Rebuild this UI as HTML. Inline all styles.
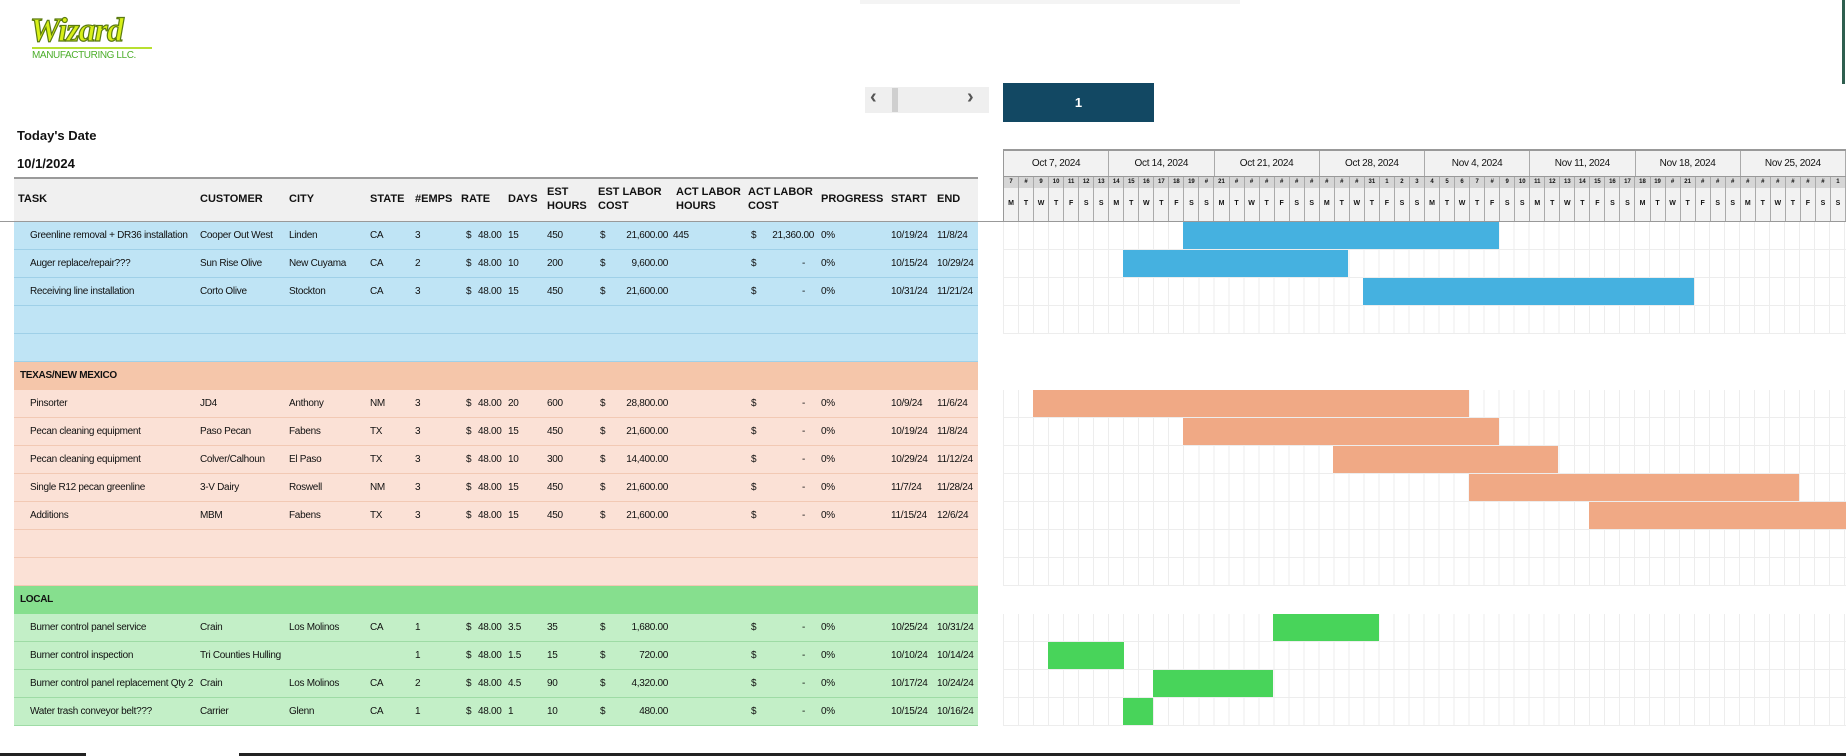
<!DOCTYPE html>
<html><head><meta charset="utf-8"><style>
*{margin:0;padding:0;box-sizing:border-box}
body{width:1846px;height:756px;background:#fff;position:relative;overflow:hidden;font-family:"Liberation Sans Narrow","Liberation Sans",sans-serif;color:#111}
.a{position:absolute}
.row{position:absolute;left:14px;width:964px;height:28px;font-size:10px;letter-spacing:-0.3px}
.row span{position:absolute;top:8px;white-space:nowrap}
.b{background:#bfe4f5;border-bottom:1px solid #9fd0e8}
.p{background:#fbe1d6;border-bottom:1px solid #f2c9b4}
.g{background:#c3efc7;border-bottom:1px solid #9edba5}
.sec{font-weight:bold;font-size:10px}
.hd{position:absolute;font-weight:bold;font-size:11px;line-height:14px;white-space:nowrap}
.grid{position:absolute;left:1003px;width:843px;background-image:repeating-linear-gradient(90deg,#ededed 0 1px,transparent 1px 15.02px),repeating-linear-gradient(180deg,transparent 0 27px,#ededed 27px 28px)}
.bar{position:absolute;height:27px}
.gh{position:absolute;left:1003px;width:843px;display:grid}
.gh div{border-right:1px solid #aaa;text-align:center;overflow:hidden;white-space:nowrap}
</style></head><body>
<!-- logo -->
<div class="a" style="left:30px;top:12px;font:italic bold 34px 'Liberation Serif',serif;color:#d8f018;-webkit-text-stroke:1.2px #5a7a10;letter-spacing:-1px">Wizard</div>
<div class="a" style="left:32px;top:47px;width:120px;height:2px;background:#b8e030"></div>
<div class="a" style="left:32px;top:50px;font-size:10px;color:#4cae2a;letter-spacing:-0.4px">MANUFACTURING LLC.</div>
<div class="a" style="left:860px;top:0;width:380px;height:4px;background:#f4f4f4"></div>
<div class="a" style="left:1842px;top:0;width:3px;height:84px;background:#2f5f4f"></div>
<!-- pager -->
<div class="a" style="left:865px;top:87px;width:124px;height:26px;background:#efefef"></div>
<div class="a" style="left:892px;top:88px;width:6px;height:24px;background:#cfcfcf"></div>
<div class="a" style="left:870px;top:86px;font-size:20px;font-weight:bold;color:#555">&#8249;</div>
<div class="a" style="left:967px;top:86px;font-size:20px;font-weight:bold;color:#555">&#8250;</div>
<div class="a" style="left:1003px;top:83px;width:151px;height:39px;background:#124863;color:#fff;font-weight:bold;font-size:13px;text-align:center;line-height:39px">1</div>
<div class="a" style="left:17px;top:128px;font-weight:bold;font-size:13px">Today's Date</div>
<div class="a" style="left:17px;top:156px;font-weight:bold;font-size:13px">10/1/2024</div>
<!-- header -->
<div class="a" style="left:14px;top:177px;width:964px;height:45px;background:#f0f0f0;border-top:2px solid #9a9a9a"></div>
<div class="a" style="left:0;top:221px;width:1003px;height:1px;background:#999"></div>
<div class="hd" style="left:18px;top:192px">TASK</div>
<div class="hd" style="left:200px;top:192px">CUSTOMER</div>
<div class="hd" style="left:289px;top:192px">CITY</div>
<div class="hd" style="left:370px;top:192px">STATE</div>
<div class="hd" style="left:415px;top:192px">#EMPS</div>
<div class="hd" style="left:461px;top:192px">RATE</div>
<div class="hd" style="left:508px;top:192px">DAYS</div>
<div class="hd" style="left:547px;top:185px">EST<br>HOURS</div>
<div class="hd" style="left:598px;top:185px">EST LABOR<br>COST</div>
<div class="hd" style="left:676px;top:185px">ACT LABOR<br>HOURS</div>
<div class="hd" style="left:748px;top:185px">ACT LABOR<br>COST</div>
<div class="hd" style="left:821px;top:192px">PROGRESS</div>
<div class="hd" style="left:891px;top:192px">START</div>
<div class="hd" style="left:937px;top:192px">END</div>
<!-- gantt header -->
<div class="gh" style="top:149px;height:28px;grid-template-columns:repeat(8,1fr);background:#f2f2f2;border-top:2px solid #999;border-left:1px solid #999;border-bottom:1px solid #999;font-size:10px;line-height:25px;letter-spacing:-0.3px">
<div>Oct 7, 2024</div><div>Oct 14, 2024</div><div>Oct 21, 2024</div><div>Oct 28, 2024</div><div>Nov 4, 2024</div><div>Nov 11, 2024</div><div>Nov 18, 2024</div><div>Nov 25, 2024</div></div>
<div class="gh" style="top:177px;height:11px;grid-template-columns:repeat(56,1fr);background:#d6d6d6;border-left:1px solid #999;font-size:6px;font-weight:bold;line-height:11px">
<div>7</div><div>#</div><div>9</div><div>10</div><div>11</div><div>12</div><div>13</div><div>14</div><div>15</div><div>16</div><div>17</div><div>18</div><div>19</div><div>#</div><div>21</div><div>#</div><div>#</div><div>#</div><div>#</div><div>#</div><div>#</div><div>#</div><div>#</div><div>#</div><div>31</div><div>1</div><div>2</div><div>3</div><div>4</div><div>5</div><div>6</div><div>7</div><div>#</div><div>9</div><div>10</div><div>11</div><div>12</div><div>13</div><div>14</div><div>15</div><div>16</div><div>17</div><div>18</div><div>19</div><div>#</div><div>21</div><div>#</div><div>#</div><div>#</div><div>#</div><div>#</div><div>#</div><div>#</div><div>#</div><div>#</div><div>1</div></div>
<div class="gh" style="top:188px;height:34px;grid-template-columns:repeat(56,1fr);background:#f2f2f2;border-left:1px solid #999;border-bottom:1px solid #999;font-size:7px;font-weight:bold;line-height:32px">
<div>M</div><div>T</div><div>W</div><div>T</div><div>F</div><div>S</div><div>S</div><div>M</div><div>T</div><div>W</div><div>T</div><div>F</div><div>S</div><div>S</div><div>M</div><div>T</div><div>W</div><div>T</div><div>F</div><div>S</div><div>S</div><div>M</div><div>T</div><div>W</div><div>T</div><div>F</div><div>S</div><div>S</div><div>M</div><div>T</div><div>W</div><div>T</div><div>F</div><div>S</div><div>S</div><div>M</div><div>T</div><div>W</div><div>T</div><div>F</div><div>S</div><div>S</div><div>M</div><div>T</div><div>W</div><div>T</div><div>F</div><div>S</div><div>S</div><div>M</div><div>T</div><div>W</div><div>T</div><div>F</div><div>S</div><div>S</div></div>
<!-- grids -->
<div class="grid" style="top:222px;height:112px"></div>
<div class="grid" style="top:390px;height:196px"></div>
<div class="grid" style="top:614px;height:112px"></div>
<!-- bars -->
<div class="bar" style="background:#45b1e0;top:222px;left:1183px;width:316px"></div>
<div class="bar" style="background:#45b1e0;top:250px;left:1123px;width:225px"></div>
<div class="bar" style="background:#45b1e0;top:278px;left:1363px;width:331px"></div>
<div class="bar" style="background:#f0a985;top:390px;left:1033px;width:436px"></div>
<div class="bar" style="background:#f0a985;top:418px;left:1183px;width:316px"></div>
<div class="bar" style="background:#f0a985;top:446px;left:1333px;width:225px"></div>
<div class="bar" style="background:#f0a985;top:474px;left:1469px;width:330px"></div>
<div class="bar" style="background:#f0a985;top:502px;left:1589px;width:257px"></div>
<div class="bar" style="background:#48d45a;top:614px;left:1273px;width:106px"></div>
<div class="bar" style="background:#48d45a;top:642px;left:1048px;width:76px"></div>
<div class="bar" style="background:#48d45a;top:670px;left:1153px;width:120px"></div>
<div class="bar" style="background:#48d45a;top:698px;left:1123px;width:30px"></div>
<!-- rows -->
<div class="row b" style="top:222px"><span style="left:16px">Greenline removal + DR36 installation</span><span style="left:186px">Cooper Out West</span><span style="left:275px">Linden</span><span style="left:356px">CA</span><span style="left:401px">3</span><span style="left:452px">$</span><span style="left:464px">48.00</span><span style="left:494px">15</span><span style="left:533px">450</span><span style="left:586px">$</span><span style="right:310px">21,600.00</span><span style="left:659px">445</span><span style="left:737px">$</span><span style="right:164px">21,360.00</span><span style="left:807px">0%</span><span style="left:877px">10/19/24</span><span style="left:923px">11/8/24</span></div>
<div class="row b" style="top:250px"><span style="left:16px">Auger replace/repair???</span><span style="left:186px">Sun Rise Olive</span><span style="left:275px">New Cuyama</span><span style="left:356px">CA</span><span style="left:401px">2</span><span style="left:452px">$</span><span style="left:464px">48.00</span><span style="left:494px">10</span><span style="left:533px">200</span><span style="left:586px">$</span><span style="right:310px">9,600.00</span><span style="left:737px">$</span><span style="left:788px">-</span><span style="left:807px">0%</span><span style="left:877px">10/15/24</span><span style="left:923px">10/29/24</span></div>
<div class="row b" style="top:278px"><span style="left:16px">Receiving line installation</span><span style="left:186px">Corto Olive</span><span style="left:275px">Stockton</span><span style="left:356px">CA</span><span style="left:401px">3</span><span style="left:452px">$</span><span style="left:464px">48.00</span><span style="left:494px">15</span><span style="left:533px">450</span><span style="left:586px">$</span><span style="right:310px">21,600.00</span><span style="left:737px">$</span><span style="left:788px">-</span><span style="left:807px">0%</span><span style="left:877px">10/31/24</span><span style="left:923px">11/21/24</span></div>
<div class="row b" style="top:306px"></div>
<div class="row b" style="top:334px"></div>
<div class="row sec" style="top:362px;background:#f5c6aa"><span style="left:6px">TEXAS/NEW MEXICO</span></div>
<div class="row p" style="top:390px"><span style="left:16px">Pinsorter</span><span style="left:186px">JD4</span><span style="left:275px">Anthony</span><span style="left:356px">NM</span><span style="left:401px">3</span><span style="left:452px">$</span><span style="left:464px">48.00</span><span style="left:494px">20</span><span style="left:533px">600</span><span style="left:586px">$</span><span style="right:310px">28,800.00</span><span style="left:737px">$</span><span style="left:788px">-</span><span style="left:807px">0%</span><span style="left:877px">10/9/24</span><span style="left:923px">11/6/24</span></div>
<div class="row p" style="top:418px"><span style="left:16px">Pecan cleaning equipment</span><span style="left:186px">Paso Pecan</span><span style="left:275px">Fabens</span><span style="left:356px">TX</span><span style="left:401px">3</span><span style="left:452px">$</span><span style="left:464px">48.00</span><span style="left:494px">15</span><span style="left:533px">450</span><span style="left:586px">$</span><span style="right:310px">21,600.00</span><span style="left:737px">$</span><span style="left:788px">-</span><span style="left:807px">0%</span><span style="left:877px">10/19/24</span><span style="left:923px">11/8/24</span></div>
<div class="row p" style="top:446px"><span style="left:16px">Pecan cleaning equipment</span><span style="left:186px">Colver/Calhoun</span><span style="left:275px">El Paso</span><span style="left:356px">TX</span><span style="left:401px">3</span><span style="left:452px">$</span><span style="left:464px">48.00</span><span style="left:494px">10</span><span style="left:533px">300</span><span style="left:586px">$</span><span style="right:310px">14,400.00</span><span style="left:737px">$</span><span style="left:788px">-</span><span style="left:807px">0%</span><span style="left:877px">10/29/24</span><span style="left:923px">11/12/24</span></div>
<div class="row p" style="top:474px"><span style="left:16px">Single R12 pecan greenline</span><span style="left:186px">3-V Dairy</span><span style="left:275px">Roswell</span><span style="left:356px">NM</span><span style="left:401px">3</span><span style="left:452px">$</span><span style="left:464px">48.00</span><span style="left:494px">15</span><span style="left:533px">450</span><span style="left:586px">$</span><span style="right:310px">21,600.00</span><span style="left:737px">$</span><span style="left:788px">-</span><span style="left:807px">0%</span><span style="left:877px">11/7/24</span><span style="left:923px">11/28/24</span></div>
<div class="row p" style="top:502px"><span style="left:16px">Additions</span><span style="left:186px">MBM</span><span style="left:275px">Fabens</span><span style="left:356px">TX</span><span style="left:401px">3</span><span style="left:452px">$</span><span style="left:464px">48.00</span><span style="left:494px">15</span><span style="left:533px">450</span><span style="left:586px">$</span><span style="right:310px">21,600.00</span><span style="left:737px">$</span><span style="left:788px">-</span><span style="left:807px">0%</span><span style="left:877px">11/15/24</span><span style="left:923px">12/6/24</span></div>
<div class="row p" style="top:530px"></div>
<div class="row p" style="top:558px"></div>
<div class="row sec" style="top:586px;background:#86df8e"><span style="left:6px">LOCAL</span></div>
<div class="row g" style="top:614px"><span style="left:16px">Burner control panel service</span><span style="left:186px">Crain</span><span style="left:275px">Los Molinos</span><span style="left:356px">CA</span><span style="left:401px">1</span><span style="left:452px">$</span><span style="left:464px">48.00</span><span style="left:494px">3.5</span><span style="left:533px">35</span><span style="left:586px">$</span><span style="right:310px">1,680.00</span><span style="left:737px">$</span><span style="left:788px">-</span><span style="left:807px">0%</span><span style="left:877px">10/25/24</span><span style="left:923px">10/31/24</span></div>
<div class="row g" style="top:642px"><span style="left:16px">Burner control inspection</span><span style="left:186px">Tri Counties Hulling</span><span style="left:401px">1</span><span style="left:452px">$</span><span style="left:464px">48.00</span><span style="left:494px">1.5</span><span style="left:533px">15</span><span style="left:586px">$</span><span style="right:310px">720.00</span><span style="left:737px">$</span><span style="left:788px">-</span><span style="left:807px">0%</span><span style="left:877px">10/10/24</span><span style="left:923px">10/14/24</span></div>
<div class="row g" style="top:670px"><span style="left:16px">Burner control panel replacement Qty 2</span><span style="left:186px">Crain</span><span style="left:275px">Los Molinos</span><span style="left:356px">CA</span><span style="left:401px">2</span><span style="left:452px">$</span><span style="left:464px">48.00</span><span style="left:494px">4.5</span><span style="left:533px">90</span><span style="left:586px">$</span><span style="right:310px">4,320.00</span><span style="left:737px">$</span><span style="left:788px">-</span><span style="left:807px">0%</span><span style="left:877px">10/17/24</span><span style="left:923px">10/24/24</span></div>
<div class="row g" style="top:698px"><span style="left:16px">Water trash conveyor belt???</span><span style="left:186px">Carrier</span><span style="left:275px">Glenn</span><span style="left:356px">CA</span><span style="left:401px">1</span><span style="left:452px">$</span><span style="left:464px">48.00</span><span style="left:494px">1</span><span style="left:533px">10</span><span style="left:586px">$</span><span style="right:310px">480.00</span><span style="left:737px">$</span><span style="left:788px">-</span><span style="left:807px">0%</span><span style="left:877px">10/15/24</span><span style="left:923px">10/16/24</span></div>
<!-- bottom bars -->
<div class="a" style="left:0;top:753px;width:86px;height:3px;background:#222"></div>
<div class="a" style="left:239px;top:753px;width:1607px;height:3px;background:#222"></div>
</body></html>
